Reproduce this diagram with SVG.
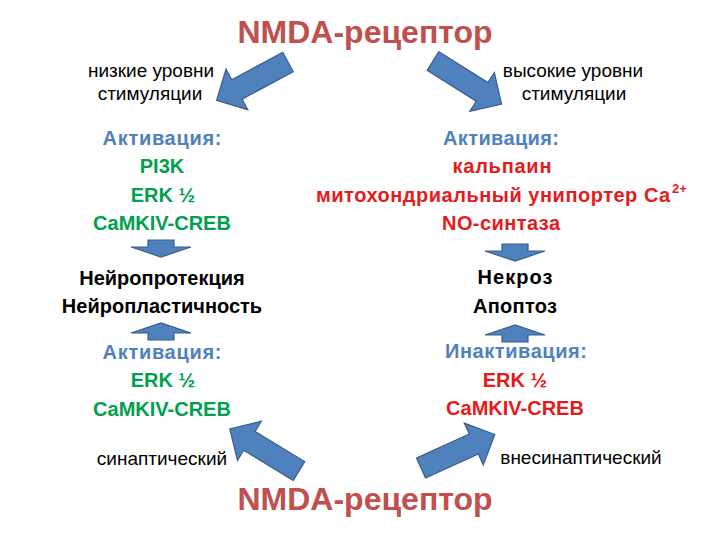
<svg xmlns="http://www.w3.org/2000/svg" width="720" height="540" viewBox="0 0 720 540">
<defs>
<style>
text{font-family:"Liberation Sans","DejaVu Sans",sans-serif;text-anchor:middle}
.title{font-size:32px;font-weight:bold;fill:#C0504D}
.small{font-size:19px;fill:#000}
.b{font-size:20px;font-weight:bold}
.blue{fill:#4F81BD}
.green{fill:#00A04F}
.red{fill:#E41B1B}
.black{fill:#000}
.arr{fill:#4F81BD;stroke:#385D8A;stroke-width:1.2;stroke-linejoin:miter}
</style>
<polygon id="bigArrow" points="0,-11 58,-11 58,-23 81,0 58,23 58,11 0,11"/>
<polygon id="downArrow" points="-13,0 13,0 13,7 30,7 0,17 -30,7 -13,7"/>
</defs>
<rect width="720" height="540" fill="#fff"/>

<g id="connectors" class="arr">
<use href="#bigArrow" transform="translate(288,62) rotate(151.8)"/>
<use href="#bigArrow" transform="translate(433,61) rotate(32.2)"/>
<use href="#bigArrow" transform="translate(299,471) rotate(-148.7)"/>
<use href="#bigArrow" transform="translate(421,468) rotate(-24.4)"/>
<use href="#downArrow" transform="translate(161,240)"/>
<use href="#downArrow" transform="translate(515,244)"/>
<use href="#downArrow" transform="translate(161,340) scale(1,-1)"/>
<use href="#downArrow" transform="translate(515,342) scale(1,-1)"/>
</g>

<g id="title-top"><text class="title" x="365" y="43">NMDA-рецептор</text></g>
<g id="title-bottom"><text class="title" x="365" y="510">NMDA-рецептор</text></g>

<g id="low-stim">
<text class="small" x="151" y="77">низкие уровни</text>
<text class="small" x="150" y="100">стимуляции</text>
</g>
<g id="high-stim">
<text class="small" x="573" y="77">высокие уровни</text>
<text class="small" x="574" y="100">стимуляции</text>
</g>

<g id="left-activation">
<text class="b blue" x="162" y="145" textLength="119">Активация:</text>
<text class="b green" x="162" y="173">PI3K</text>
<text class="b green" x="163" y="202">ERK ½</text>
<text class="b green" x="162" y="230">CaMKIV-CREB</text>
</g>

<g id="right-activation">
<text class="b blue" x="501" y="145" textLength="116">Активация:</text>
<text class="b red" x="502" y="173" textLength="99">кальпаин</text>
<text class="b red" x="316" y="202" style="text-anchor:start" textLength="354">митохондриальный унипортер Ca</text>
<text class="red" x="672" y="193" style="text-anchor:start;font-size:13px;font-weight:bold">2+</text>
<text class="b red" x="501" y="230" textLength="118">NO-синтаза</text>
</g>

<g id="neuroprotection">
<text class="b black" x="162" y="285">Нейропротекция</text>
<text class="b black" x="162" y="313">Нейропластичность</text>
</g>

<g id="necrosis">
<text class="b black" x="515" y="284" textLength="75">Некроз</text>
<text class="b black" x="515" y="313" textLength="84">Апоптоз</text>
</g>

<g id="left-activation-2">
<text class="b blue" x="162" y="359" textLength="119">Активация:</text>
<text class="b green" x="163" y="387">ERK ½</text>
<text class="b green" x="162" y="416">CaMKIV-CREB</text>
</g>

<g id="right-inactivation">
<text class="b blue" x="516" y="358" textLength="142">Инактивация:</text>
<text class="b red" x="515" y="387">ERK ½</text>
<text class="b red" x="515" y="415">CaMKIV-CREB</text>
</g>

<g id="synaptic"><text class="small" x="162" y="465">синаптический</text></g>
<g id="extrasynaptic"><text class="small" x="581" y="464">внесинаптический</text></g>
</svg>
